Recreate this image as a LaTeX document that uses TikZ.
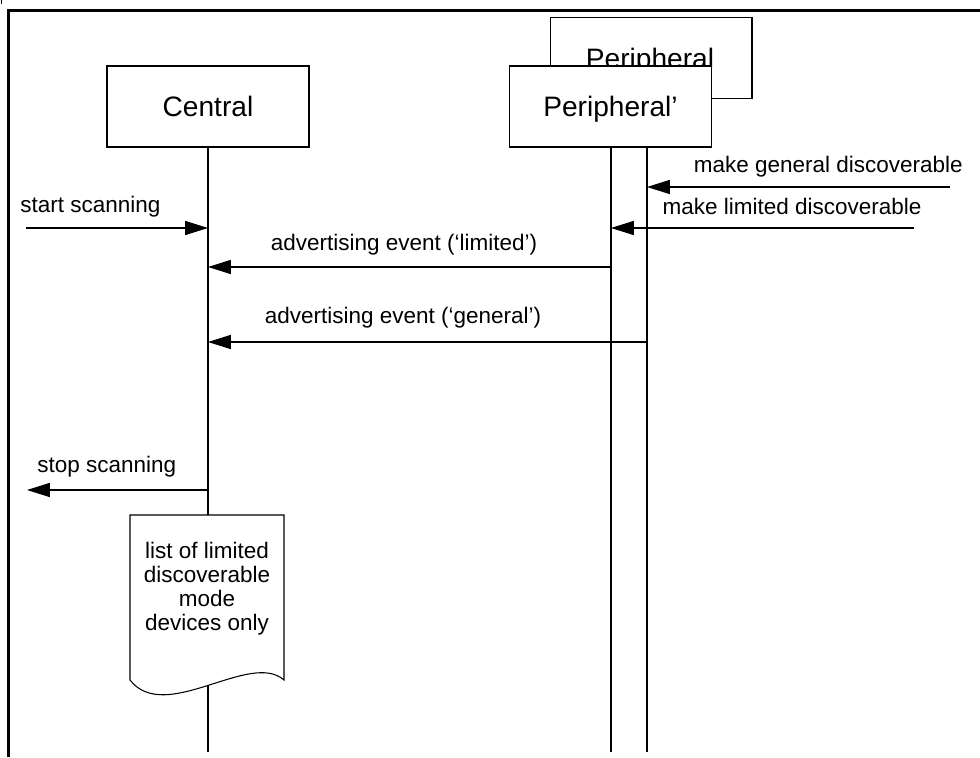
\documentclass[tikz,border=0pt]{standalone}
\usepackage{fontspec}
\setmainfont{Liberation Sans}
\tikzset{msg/.style = {-{Triangle[length=13pt,width=8pt]}, line width=0.6pt}}
\tikzset{actor/.style = {draw, fill=white, line width=0.6pt, inner sep=0,
                         minimum width=4.04cm, minimum height=1.62cm,
                         text height=11.5pt, text depth=0pt,
                         font=\fontsize{16}{19}\selectfont}}
\tikzset{lbl/.style = {inner sep=0, font=\fontsize{12.8}{13.6}\selectfont}}
\tikzset{life/.style = {line width=0.6pt}}
\usetikzlibrary{arrows.meta,
                 positioning}

\begin{document}
\begin{tikzpicture}[x=0.02cm, y=-0.02cm]
    \useasboundingbox (0,0) rectangle (980,757);

    % frame
    \draw[line width=0.6pt] (1.5,0) -- (1.5,4);
    \draw[line width=1.7pt] (8.5,757) -- (8.5,10.5) -- (980,10.5);

    % actors
    \node[actor] (central) at (208,106.5) {Central};
    \node[actor] (periph) at (651,58) {};
    \node[lbl, font=\fontsize{16}{19}\selectfont, anchor=base] (periph txt) at (650,69) {Peripheral};
    \node[actor] (periphp) at (610.5,106.5) {Peripheral'};

    % lifelines
    \coordinate (ptop) at (647,147);
    \coordinate (pptop) at (611,147);
    \draw[life] (central.south) -- (central.south |- 0,752);
    \draw[life, line width=0.8pt] (pptop) -- (pptop |- 0,752);
    \draw[life] (ptop) -- (ptop |- 0,752);

    % commands from the host side
    \coordinate (gen src) at (950,187);
    \draw[msg] (gen src) -- (gen src -| ptop);
    \node[lbl, anchor=base east] (gen lbl) at (963,173) {make general discoverable};

    \coordinate (lim src) at (914,228);
    \draw[msg] (lim src) -- (lim src -| pptop);
    \node[lbl, anchor=base] (lim lbl) at (792,214) {make limited discoverable};

    \coordinate (start src) at (26,228);
    \draw[msg] (start src) -- (start src -| central.south);
    \node[lbl, anchor=base west] (start lbl) at (20,212) {start scanning};

    % advertising
    \draw[msg] (pptop |- 0,267) -- (central.south |- 0,267);
    \node[lbl, anchor=base] (adv lim) at (404,250) {advertising event (‘limited’)};
    \draw[msg] (ptop |- 0,342) -- (central.south |- 0,342);
    \node[lbl, anchor=base] (adv gen) at (403,323) {advertising event (‘general’)};

    % stop and result
    \coordinate (stop dst) at (27,490);
    \draw[msg] (central.south |- stop dst) -- (stop dst);
    \node[lbl, anchor=base west] (stop lbl) at (37,472) {stop scanning};

    \draw[line width=0.6pt, fill=white] (130,515) -- (284,515) -- (284,680)
        .. controls (250,650) and (165,725) .. (130,680) -- cycle;
    \node[lbl, align=center] (devlist) at (207,589)
        {list of limited\\discoverable\\mode\\devices only};
\end{tikzpicture}
\end{document}
